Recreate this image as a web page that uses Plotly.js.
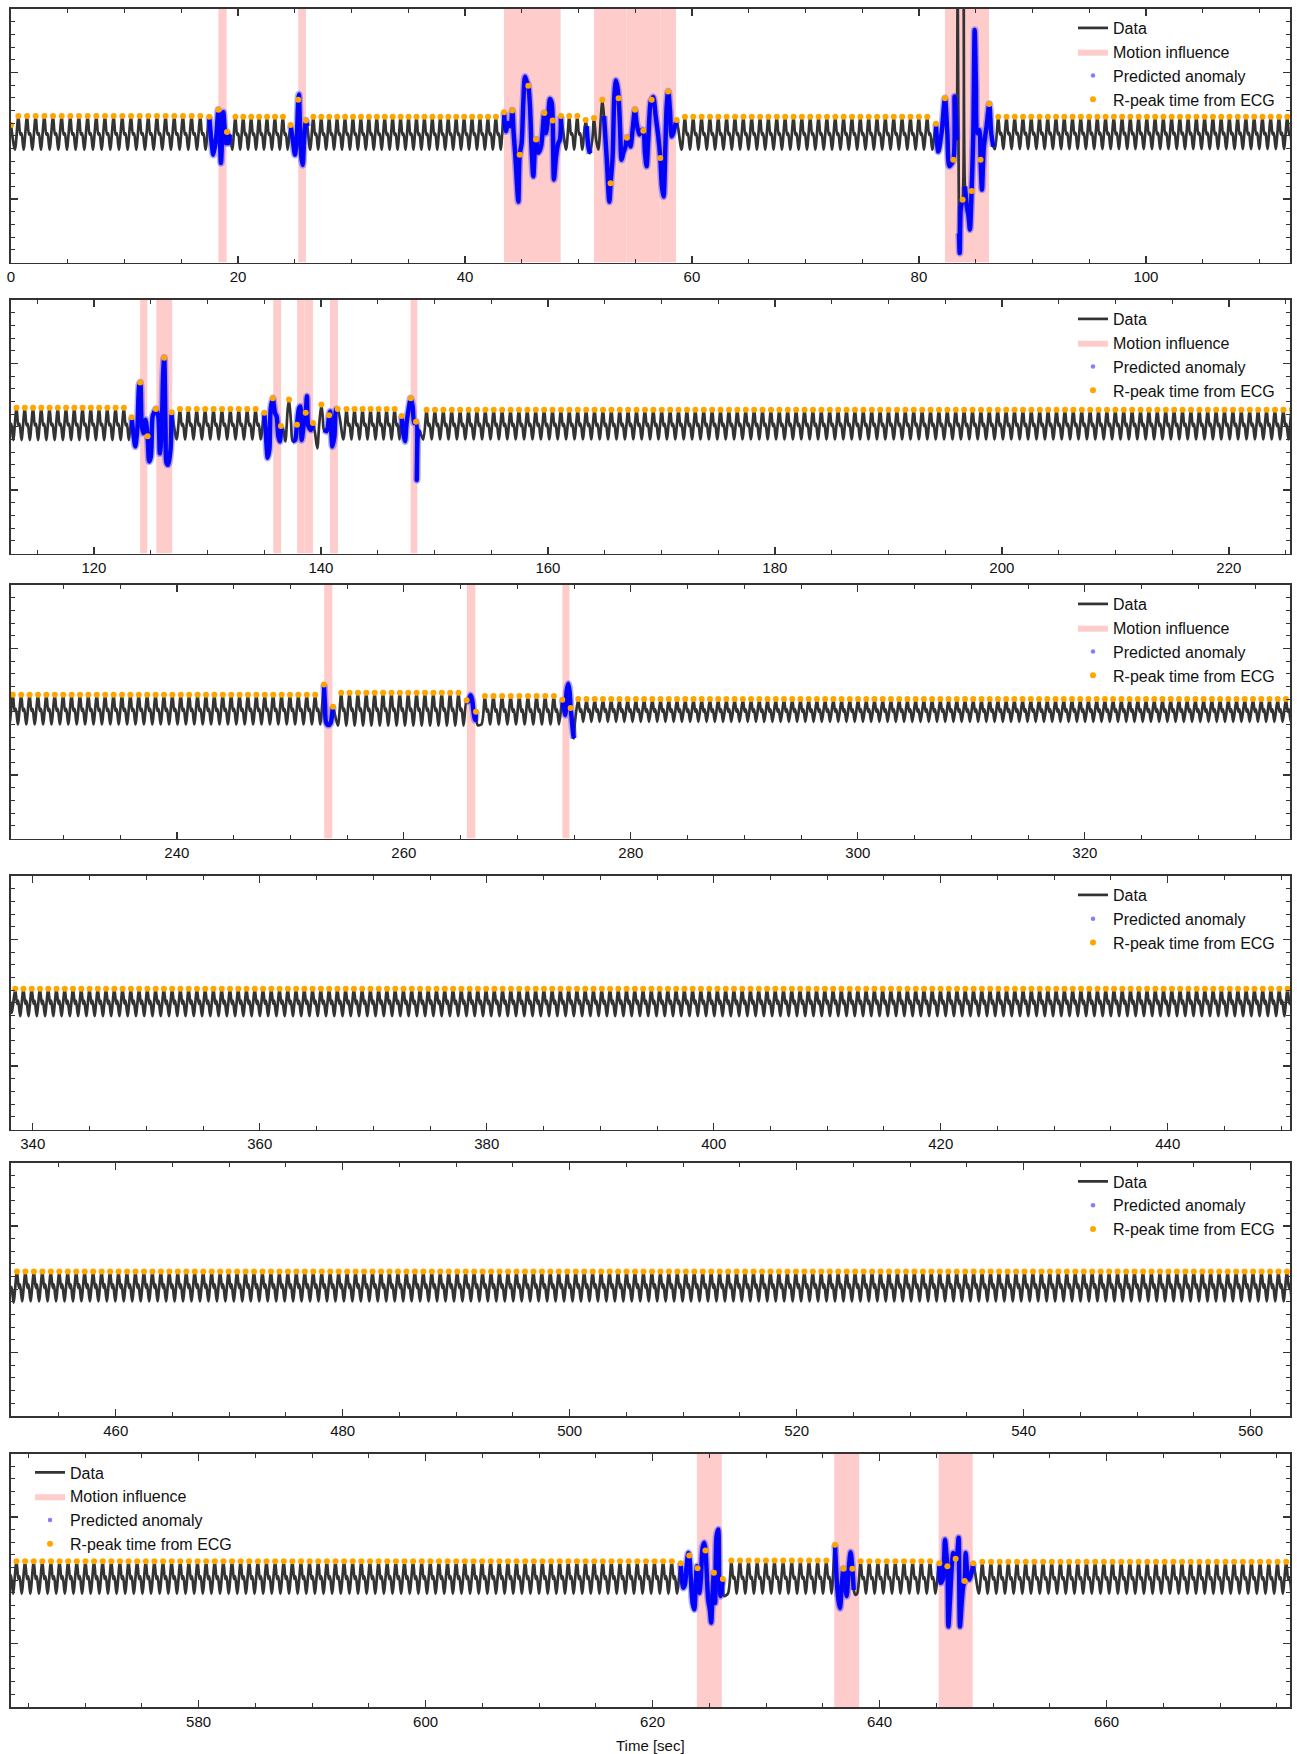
<!DOCTYPE html>
<html>
<head>
<meta charset="utf-8">
<script src="https://cdn.plot.ly/plotly-3.0.1.min.js"></script>
<style>html,body{margin:0;padding:0;background:#fff;}#chart{width:1297px;height:1754px;}</style>
</head>
<body>
<div id="chart"></div>
<script>
// ---------------- DATA ----------------
// Regular stretches of the signal: first R-peak time, last R-peak time, number of beats,
// peak level, trough level, size of the dicrotic notch (fraction of beat amplitude)
const segFirst  = [0.65, 19.77, 26.64, 49.19, 59.38, 86.99, 127.58, 142.26, 149.31, 254.48, 267.14, 275.37, 338.45, 451.30, 563.95, 626.94, 638.33, 649.05];
const segLast   = [16.68, 23.96, 42.73, 49.90, 80.73, 122.64, 134.25, 146.50, 252.19, 264.82, 273.22, 337.72, 450.56, 563.20, 621.69, 635.31, 644.45, 675.83];
const segBeats  = [22, 7, 24, 2, 30, 50, 10, 7, 140, 15, 9, 87, 155, 151, 77, 12, 9, 36];
const segPeak   = [0.31, 0.30, 0.30, 0.31, 0.30, 0.30, 0.28, 0.28, 0.27, 0.30, 0.25, 0.20, 0.22, 0.28, 0.30, 0.31, 0.30, 0.29];
const segTrough = [-0.22, -0.22, -0.22, -0.22, -0.22, -0.21, -0.20, -0.20, -0.20, -0.22, -0.20, -0.16, -0.21, -0.19, -0.21, -0.21, -0.21, -0.21];
const segNotch  = [0.04, 0.04, 0.04, 0.04, 0.05, 0.05, 0.06, 0.06, 0.07, 0.07, 0.08, 0.10, 0.12, 0.12, 0.08, 0.06, 0.06, 0.06];

// Irregular stretches: [time, value, kind]
// kind: b = predicted anomaly, r = predicted anomaly at an ECG R-peak,
//       n = ordinary sample, m = ordinary sample at an ECG R-peak, k = spike outside anomaly dots
const edgeStart = [[0.00, 0.17, 'm']];
const anomaly01 = [[17.47,0.30,'r'],[17.71,-0.17,'b'],[17.83,-0.30,'b'],[18.06,-0.06,'b'],[18.27,0.41,'r'],[18.41,-0.06,'b'],[18.50,-0.43,'b'],[18.62,0.04,'b'],[18.71,0.37,'b'],[18.85,0.04,'b'],[18.94,-0.12,'b'],[19.03,0.06,'r'],[19.15,-0.12,'b'],[19.29,0.02,'b']];
const anomaly02 = [[24.64,0.17,'r'],[24.82,-0.06,'b'],[25.02,-0.30,'b'],[25.17,-0.06,'b'],[25.31,0.57,'r'],[25.37,0.65,'b'],[25.46,0.15,'b'],[25.58,-0.33,'b'],[25.70,-0.46,'b'],[25.81,-0.12,'b'],[25.99,0.24,'r'],[26.11,0.15,'b']];
const anomaly03 = [[43.44,0.37,'r'],[43.61,0.07,'b'],[43.82,0.20,'b'],[44.02,0.15,'b'],[44.17,0.40,'r'],[44.29,0.04,'b'],[44.46,-0.38,'b'],[44.61,-0.85,'b'],[44.70,-1.04,'b'],[44.82,-0.30,'r'],[44.99,-0.12,'b'],[45.14,0.52,'b'],[45.29,0.93,'b'],[45.43,0.86,'b'],[45.58,0.79,'r'],[45.73,0.46,'b'],[45.87,-0.22,'b'],[46.02,-0.64,'b'],[46.17,-0.17,'b'],[46.26,-0.06,'r'],[46.46,-0.27,'b'],[46.70,-0.17,'b'],[46.99,0.36,'r'],[47.14,0.04,'b'],[47.34,0.31,'b'],[47.49,0.58,'b'],[47.64,0.52,'b'],[47.73,0.24,'r'],[47.84,-0.69,'b'],[48.02,-0.33,'b'],[48.22,-0.12,'b'],[48.37,-0.06,'b'],[48.46,0.31,'r']];
const anomaly04 = [[50.63,0.25,'m'],[50.72,0.15,'b'],[50.87,-0.17,'b'],[51.01,-0.28,'b'],[51.22,-0.06,'n'],[51.37,0.28,'m'],[51.55,-0.06,'n'],[51.75,-0.22,'n'],[51.96,0.25,'n'],[52.10,0.57,'m'],[52.25,0.31,'b'],[52.48,-0.33,'b'],[52.72,-1.04,'b'],[52.83,-0.75,'r'],[53.01,-0.33,'b'],[53.16,0.62,'b'],[53.30,0.87,'b'],[53.42,0.78,'b'],[53.54,0.59,'r'],[53.66,0.15,'b'],[53.80,-0.38,'b'],[53.95,-0.27,'b'],[54.15,-0.17,'b'],[54.27,-0.03,'r'],[54.45,-0.06,'b'],[54.59,-0.17,'b'],[54.74,0.04,'b'],[54.98,0.41,'r'],[55.12,0.20,'b'],[55.36,0.02,'b'],[55.56,0.09,'b'],[55.71,0.08,'r'],[55.86,-0.27,'b'],[56.00,-0.48,'b'],[56.15,-0.06,'b'],[56.36,0.54,'b'],[56.45,0.57,'r'],[56.59,0.61,'b'],[56.80,0.31,'b'],[57.03,-0.01,'b'],[57.21,-0.35,'r'],[57.35,-0.80,'b'],[57.50,-0.96,'b'],[57.65,-0.22,'b'],[57.77,0.46,'b'],[57.91,0.70,'r'],[58.06,0.41,'b'],[58.21,-0.01,'b'],[58.35,0.04,'b'],[58.50,0.15,'b'],[58.65,0.25,'r']];
const anomaly05 = [[81.50,0.19,'r'],[81.70,-0.25,'b'],[81.99,0.04,'b'],[82.29,0.59,'r'],[82.50,0.04,'b'],[82.68,-0.48,'b'],[83.03,-0.38,'r'],[83.14,0.62,'b'],[83.32,-0.06,'b'],[83.41,2.6,'k'],[83.53,-1.54,'b'],[83.59,-1.85,'b'],[83.70,-1.12,'b'],[83.85,-1.01,'r'],[83.94,2.6,'k'],[84.05,-0.80,'b'],[84.23,-1.12,'b'],[84.37,-1.27,'b'],[84.49,-1.48,'b'],[84.64,-0.87,'r'],[84.79,0.04,'b'],[84.91,1.67,'b'],[85.02,0.83,'b'],[85.14,0.04,'b'],[85.32,0.09,'b'],[85.43,-0.38,'r'],[85.55,-0.85,'b'],[85.72,-0.17,'b'],[85.96,0.15,'b'],[86.20,0.50,'r'],[86.37,0.04,'b'],[86.55,-0.17,'b']];
const anomaly06 = [[123.32,0.15,'r'],[123.47,-0.10,'b'],[123.64,-0.31,'b'],[123.82,-0.05,'b'],[123.99,0.66,'b'],[124.08,0.70,'r'],[124.20,0.06,'b'],[124.34,-0.10,'b'],[124.55,0.11,'b'],[124.73,-0.15,'r'],[124.87,-0.55,'b'],[125.02,-0.47,'b'],[125.17,0.16,'b'],[125.31,0.23,'b'],[125.46,0.28,'r'],[125.67,0.16,'b'],[125.81,-0.42,'b'],[125.96,-0.10,'b'],[126.10,0.85,'b'],[126.19,1.09,'r'],[126.31,-0.05,'b'],[126.40,-0.57,'b'],[126.54,-0.60,'b'],[126.75,-0.36,'b'],[126.84,0.23,'r']];
const anomaly07 = [[135.01,0.22,'r'],[135.13,-0.05,'b'],[135.31,-0.49,'b'],[135.46,-0.36,'b'],[135.57,0.27,'b'],[135.75,0.45,'r'],[135.95,0.22,'b'],[136.10,0.16,'b'],[136.25,-0.15,'b'],[136.39,-0.23,'b'],[136.48,0.01,'r'],[136.69,-0.05,'n'],[136.87,-0.23,'n'],[137.07,0.27,'n'],[137.19,0.43,'m'],[137.37,0.06,'n'],[137.51,-0.23,'b'],[137.72,-0.21,'b'],[137.89,0.03,'r'],[138.07,0.29,'b'],[138.19,0.32,'b'],[138.30,-0.21,'b'],[138.51,0.08,'b'],[138.66,0.22,'r'],[138.77,0.48,'b'],[138.89,0.01,'b'],[139.13,-0.05,'b'],[139.30,0.06,'r'],[139.48,-0.10,'n'],[139.68,-0.34,'n'],[139.86,0.06,'n'],[140.04,0.35,'m'],[140.16,0.16,'n'],[140.27,-0.05,'b'],[140.51,-0.07,'b'],[140.72,0.18,'r'],[140.81,0.24,'b'],[141.01,-0.31,'b'],[141.19,-0.15,'b'],[141.34,0.27,'b'],[141.48,0.28,'r']];
const anomaly08 = [[147.11,0.17,'r'],[147.26,-0.10,'b'],[147.41,-0.23,'b'],[147.55,0.06,'b'],[147.79,0.35,'b'],[147.91,0.45,'r'],[148.08,0.32,'b'],[148.22,0.06,'b'],[148.38,0.08,'r'],[148.45,-0.84,'b'],[148.53,-0.15,'b'],[148.64,-0.05,'b']];
const anomaly09 = [[252.96,0.43,'r'],[253.05,0.11,'b'],[253.14,-0.16,'b'],[253.34,-0.21,'b'],[253.55,-0.18,'b'],[253.70,0.00,'b'],[253.76,0.08,'r']];
const anomaly10 = [[265.53,0.18,'r'],[265.68,0.16,'b'],[265.88,0.26,'b'],[266.03,0.18,'b'],[266.12,0.03,'b'],[266.27,-0.13,'b'],[266.36,0.00,'r'],[266.50,-0.21,'n']];
const anomaly11 = [[273.96,0.19,'r'],[274.05,0.11,'b'],[274.23,-0.05,'b'],[274.34,0.32,'b'],[274.49,0.44,'b'],[274.61,0.32,'b'],[274.70,0.06,'r'],[274.79,-0.11,'b'],[274.93,-0.37,'b'],[274.99,-0.42,'b']];
const anomaly12 = [[622.47,0.27,'r'],[622.56,0.06,'b'],[622.70,-0.12,'b'],[622.85,-0.07,'b'],[622.99,0.22,'b'],[623.14,0.43,'b'],[623.23,0.39,'r'],[623.37,0.01,'b'],[623.52,-0.36,'b'],[623.67,-0.46,'b'],[623.81,0.01,'b'],[623.90,0.22,'b'],[623.96,0.19,'r'],[624.11,-0.20,'b'],[624.25,0.01,'b'],[624.40,0.51,'b'],[624.55,0.59,'b'],[624.66,0.47,'r'],[624.75,0.17,'b'],[624.90,-0.31,'b'],[625.04,-0.46,'b'],[625.16,-0.67,'b'],[625.28,-0.20,'b'],[625.40,0.12,'r'],[625.51,-0.36,'b'],[625.63,0.69,'b'],[625.78,0.80,'b'],[625.87,0.01,'b'],[625.99,-0.25,'b'],[626.10,-0.09,'b'],[626.19,0.02,'r'],[626.31,-0.25,'n']];
const anomaly13 = [[636.07,0.56,'r'],[636.22,0.01,'b'],[636.37,-0.31,'b'],[636.51,-0.44,'b'],[636.66,-0.09,'b'],[636.81,0.18,'r'],[636.95,-0.04,'b'],[637.10,-0.25,'b'],[637.25,0.12,'b'],[637.45,0.44,'b'],[637.60,0.18,'r'],[637.72,-0.15,'b'],[637.86,-0.23,'n']];
const anomaly14 = [[645.26,0.27,'r'],[645.38,-0.04,'b'],[645.56,0.01,'b'],[645.76,0.64,'b'],[645.85,0.48,'b'],[645.97,0.22,'r'],[646.06,-0.73,'b'],[646.20,-0.31,'b'],[646.38,0.27,'b'],[646.49,0.43,'b'],[646.70,0.34,'r'],[646.85,0.43,'b'],[646.96,0.67,'b'],[647.08,-0.73,'b'],[647.23,-0.36,'b'],[647.37,-0.09,'b'],[647.49,-0.01,'r'],[647.58,0.43,'b'],[647.73,0.12,'b'],[647.90,0.01,'b'],[648.11,0.12,'b'],[648.25,0.27,'r']];

// Motion influence intervals (seconds)
const motionStart = [18.27, 25.31, 43.44, 51.37, 54.24, 57.24, 82.29, 124.07, 125.50, 135.80, 137.90, 138.60, 140.80, 147.90, 252.98, 265.55, 273.97, 623.90, 636.00, 645.20];
const motionEnd   = [19.00, 25.99, 48.43, 54.22, 57.22, 58.59, 86.17, 124.70, 126.90, 136.50, 138.58, 139.30, 141.50, 148.50, 253.70, 266.30, 274.60, 626.10, 638.20, 648.20];

const seriesNames = ['Data', 'Motion influence', 'Predicted anomaly', 'R-peak time from ECG'];
const TOTAL_SECONDS = 676.16;

// ---------------- LAYOUT CONSTANTS ----------------
const ROWS = 6;
const ROW_SECONDS = TOTAL_SECONDS / ROWS;
const Y_MIN = -2, Y_MAX = 2;
const FIG_W = 1297, FIG_H = 1754;
const PLOT_LEFT = 11, PLOT_RIGHT = 1290;
const rowTopPx = [9, 300, 585, 876, 1162.5, 1453.5];
const ROW_H = 253.5;
const FONT = 'Liberation Sans, Arial, Helvetica, sans-serif';

const anomalyWindows = [edgeStart, anomaly01, anomaly02, anomaly03, anomaly04, anomaly05, anomaly06, anomaly07,
  anomaly08, anomaly09, anomaly10, anomaly11, anomaly12, anomaly13, anomaly14];

function buildPoints() {
  const pts = [];
  for (let i = 0; i < segFirst.length; i++) {
    const n = segBeats[i];
    const rr = (segLast[i] - segFirst[i]) / (n - 1);
    const P = segPeak[i], T = segTrough[i], A = P - T;
    const mid = T + 0.45 * A, bump = mid + segNotch[i] * A;
    pts.push([segFirst[i] - 0.4 * rr, T, 'n']);
    for (let j = 0; j < n; j++) {
      const t = segFirst[i] + j * rr;
      pts.push([t, P, 'm'], [t + 0.22 * rr, mid, 'n'], [t + 0.36 * rr, bump, 'n'], [t + 0.6 * rr, T, 'n']);
    }
  }
  anomalyWindows.forEach(w => w.forEach(p => pts.push(p)));
  pts.sort((a, b) => a[0] - b[0]);
  const out = [];
  pts.forEach(p => { if (!out.length || p[0] - out[out.length - 1][0] > 0.02) out.push(p); });
  return out;
}

const allPts = buildPoints();
const px2x = px => px / FIG_W;
const px2y = px => 1 - px / FIG_H;

const traces = [];
const layout = {
  width: FIG_W, height: FIG_H,
  margin: {l: 0, r: 0, t: 0, b: 0},
  paper_bgcolor: '#fff', plot_bgcolor: '#fff',
  font: {family: FONT, size: 15, color: '#111'},
  showlegend: true,
  annotations: [{
    text: 'Time [sec]', xref: 'paper', yref: 'paper',
    x: px2x((PLOT_LEFT + PLOT_RIGHT) / 2), y: px2y(1745), xanchor: 'center', yanchor: 'middle',
    showarrow: false, font: {family: FONT, size: 15, color: '#111'}
  }]
};

for (let r = 0; r < ROWS; r++) {
  const sfx = r === 0 ? '' : String(r + 1);
  const xa = 'x' + sfx, ya = 'y' + sfx;
  const legName = 'legend' + sfx;
  const x0 = r * ROW_SECONDS, x1 = x0 + ROW_SECONDS;
  const sel = allPts.filter(p => p[0] >= x0 - 2 && p[0] <= x1 + 2);

  // motion influence
  const mx = [], my = [];
  for (let i = 0; i < motionStart.length; i++) {
    if (motionEnd[i] < x0 || motionStart[i] > x1) continue;
    mx.push(motionStart[i], motionStart[i], motionEnd[i], motionEnd[i], motionStart[i], null);
    my.push(Y_MIN, Y_MAX, Y_MAX, Y_MIN, Y_MIN, null);
  }
  if (mx.length) {
    traces.push({
      type: 'scatter', mode: 'lines', x: mx, y: my, xaxis: xa, yaxis: ya,
      fill: 'toself', fillcolor: 'rgba(255,0,0,0.2)', line: {width: 0, color: 'rgba(255,0,0,0.2)'},
      name: seriesNames[1], legend: legName, legendrank: 2, hoverinfo: 'skip'
    });
  }
  // data
  traces.push({
    type: 'scatter', mode: 'lines', x: sel.map(p => p[0]), y: sel.map(p => p[1]), xaxis: xa, yaxis: ya,
    line: {color: '#333333', width: 2.7, shape: 'spline', smoothing: 0.8, simplify: false},
    name: seriesNames[0], legend: legName, legendrank: 1
  });
  // anomaly overlay
  const bx = [], by = [];
  sel.forEach(p => {
    if (p[2] === 'b' || p[2] === 'r') { bx.push(p[0]); by.push(p[1]); }
    else if (bx.length && bx[bx.length - 1] !== null) { bx.push(null); by.push(null); }
  });
  if (bx.length) {
    traces.push({
      type: 'scatter', mode: 'lines', x: bx, y: by, xaxis: xa, yaxis: ya,
      line: {color: 'rgba(40,40,255,0.35)', width: 7.5, shape: 'spline', smoothing: 0.8, simplify: false},
      showlegend: false, legend: legName, hoverinfo: 'skip'
    });
    traces.push({
      type: 'scatter', mode: 'lines', x: bx, y: by, xaxis: xa, yaxis: ya,
      line: {color: 'rgba(0,0,255,0.95)', width: 4.5, shape: 'spline', smoothing: 0.8, simplify: false},
      showlegend: false, legend: legName, hoverinfo: 'skip'
    });
  }
  traces.push({
    type: 'scatter', mode: 'markers', x: [null], y: [null], xaxis: xa, yaxis: ya,
    marker: {color: 'rgba(0,0,255,0.5)', size: 4.5},
    name: seriesNames[2], legend: legName, legendrank: 3
  });
  // R-peaks
  const rp = sel.filter(p => (p[2] === 'r' || p[2] === 'm') && p[0] >= x0 - 0.2 && p[0] <= x1 + 0.2);
  traces.push({
    type: 'scatter', mode: 'markers', x: rp.map(p => p[0]), y: rp.map(p => p[1]), xaxis: xa, yaxis: ya,
    marker: {color: '#FFA500', size: 6},
    name: seriesNames[3], legend: legName, legendrank: 4
  });

  const top = rowTopPx[r], bottom = top + ROW_H;
  layout['xaxis' + sfx] = {
    domain: [px2x(PLOT_LEFT), px2x(PLOT_RIGHT)], anchor: ya, range: [x0, x1],
    tick0: 0, dtick: 20, ticks: 'inside', ticklen: 7, tickwidth: 1.3, tickcolor: '#333',
    minor: {dtick: 5, ticks: 'inside', ticklen: 4, tickwidth: 1, tickcolor: '#333', showgrid: false},
    showline: true, linecolor: '#333', linewidth: 1.6, mirror: 'ticks',
    showgrid: false, zeroline: false, tickfont: {family: FONT, size: 15, color: '#111'}
  };
  layout['yaxis' + sfx] = {
    domain: [px2y(bottom), px2y(top)], anchor: xa, range: [Y_MIN, Y_MAX],
    tick0: 0, dtick: 1, ticks: 'inside', ticklen: 7, tickwidth: 1.3, tickcolor: '#333',
    minor: {dtick: 0.2, ticks: 'inside', ticklen: 4, tickwidth: 1, tickcolor: '#333', showgrid: false},
    showline: true, linecolor: '#333', linewidth: 1.6, mirror: 'ticks',
    showgrid: false, zeroline: false, showticklabels: false
  };
  const legX = r === ROWS - 1 ? 30 : 1073;
  layout[legName] = {
    x: px2x(legX), y: px2y(top + 2), xanchor: 'left', yanchor: 'top',
    bgcolor: 'rgba(255,255,255,0)', borderwidth: 0,
    font: {family: FONT, size: 16, color: '#111'}, traceorder: 'normal', itemwidth: 30
  };
}

Plotly.newPlot('chart', traces, layout, {staticPlot: true});
</script>
</body>
</html>
